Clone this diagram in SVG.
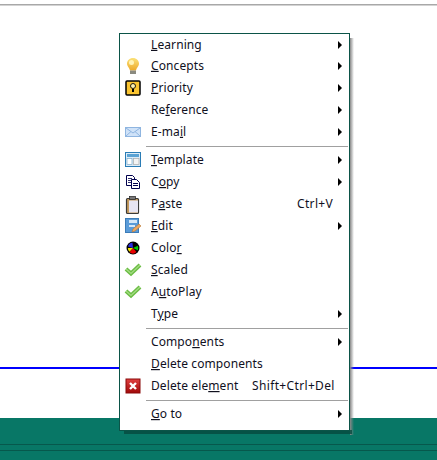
<svg xmlns="http://www.w3.org/2000/svg" width="437" height="460" viewBox="0 0 437 460">
<style>
text{font-family:"Noto Sans","Open Sans","Liberation Sans",sans-serif;font-size:12px;fill:#10101e;letter-spacing:.1px}
.k{letter-spacing:.35px}
.u{text-decoration:underline}
.sep{stroke:#a0a0a0;stroke-width:1}
.arr{fill:#000}
.chk{fill:none;stroke:#6cbd45;stroke-width:4;stroke-linejoin:miter}
</style>
<defs>
<path id="a" class="arr" d="M338 41v8l4-4z"/>
<linearGradient id="sh" x1="0" x2="1" y1="0" y2="0"><stop offset="0" stop-color="#888"/><stop offset="1" stop-color="#888" stop-opacity="0"/></linearGradient>
<linearGradient id="red" x1="0" x2="0" y1="0" y2="1"><stop offset="0" stop-color="#e04040"/><stop offset="1" stop-color="#a00808"/></linearGradient>
<linearGradient id="bulb" x1="0" x2="0" y1="0" y2="1"><stop offset="0" stop-color="#fbe27a"/><stop offset="1" stop-color="#eda92a"/></linearGradient>
<g id="chk"><path class="chk" d="M126 269l5 4.500 9-8.500"/><path d="M126 269l5 4.500 9-8.500" fill="none" stroke="#a5dd85" stroke-width="1.200"/></g>
</defs>
<rect width="437" height="460" fill="#fff"/>
<g id="background">
<rect y="4" width="437" height="1.500" fill="#a8a8a8"/>
<rect y="367" width="437" height="2" fill="#0000ff"/>
<rect y="418" width="437" height="42" fill="#087766"/>
<rect y="444" width="437" height="1" fill="#07584c"/>
<rect y="450" width="437" height="1" fill="#07584c"/>
</g>
<g id="menu">
<rect x="350" y="38" width="4" height="397" fill="url(#sh)"/>
<rect x="124" y="430" width="228" height="4" fill="#06493f" opacity=".8"/>
<rect x="119.500" y="33.500" width="230" height="397" fill="#fff" stroke="#0b5448"/>
<line class="sep" x1="146" x2="348" y1="146.500" y2="146.500"/>
<line class="sep" x1="146" x2="348" y1="328.500" y2="328.500"/>
<line class="sep" x1="146" x2="348" y1="400.500" y2="400.500"/>
</g>
<g id="item-learning"><text x="151" y="48.800"><tspan class="u">L</tspan>earning</text><use href="#a"/></g>
<g id="item-concepts">
<path d="M133 58c-3.500 0-6 2.500-6 5.500 0 2.500 2 3.500 3 7h6c1-3.500 3-4.500 3-7 0-3-2.500-5.500-6-5.500z" fill="url(#bulb)"/>
<circle cx="131.500" cy="62.500" r="2.500" fill="#fff4b8"/>
<rect x="130" y="70.500" width="6" height="3.500" fill="#8a8a80"/>
<text x="151" y="69.800"><tspan class="u">C</tspan>oncepts</text><use href="#a" y="21"/></g>
<g id="item-priority">
<rect x="126" y="81" width="14" height="14" rx="1" fill="#fbc531" stroke="#000" stroke-width="1.500"/>
<circle cx="133" cy="86" r="2.500" fill="#fff3b0" stroke="#000" stroke-width=".9"/>
<rect x="132" y="89" width="2" height="3" fill="#000"/>
<text x="151" y="91.800"><tspan class="u">P</tspan>riority</text><use href="#a" y="43"/></g>
<g id="item-reference"><text x="151" y="113.800">Re<tspan class="u">f</tspan>erence</text><use href="#a" y="65"/></g>
<g id="item-email">
<rect x="125.500" y="127.500" width="15" height="9" fill="#cfe2f8" stroke="#8fb5e0"/>
<path d="M126 128l7 5 7-5M126 136l5-4.500M140 136l-5-4.500" fill="none" stroke="#8fb5e0"/>
<text x="151" y="135.800">E-ma<tspan class="u">i</tspan>l</text><use href="#a" y="87"/></g>
<g id="item-template">
<rect x="125.500" y="152.500" width="15" height="14" fill="#dcecf8" stroke="#2a7cb5"/>
<rect x="127" y="154" width="12" height="3" fill="#5ba3d4"/>
<rect x="127" y="158.500" width="5" height="6" fill="#fff" stroke="#7aa8c8" stroke-width=".7"/>
<rect x="133.500" y="158.500" width="5.500" height="6" fill="#f3f3f3" stroke="#aaa" stroke-width=".7"/>
<text x="151" y="164"><tspan class="u">T</tspan>emplate</text><use href="#a" y="115"/></g>
<g id="item-copy">
<path d="M126.500 175.500h6l2 2v8h-8z" fill="#fff" stroke="#00004d"/>
<path d="M128 178.500h4M128 180.500h3M128 182.500h3" stroke="#00004d" stroke-width=".8"/>
<path d="M131.500 179.500h5l3 3v6h-8z" fill="#fff" stroke="#00004d"/>
<path d="M133 183.500h5M133 185.500h5" stroke="#00004d"/>
<text x="151" y="186">C<tspan class="u">o</tspan>py</text><use href="#a" y="137"/></g>
<g id="item-paste">
<rect x="126.500" y="198.500" width="12" height="15" rx="1" fill="#c49a5c" stroke="#3a3a3a" stroke-width="1.200"/>
<rect x="129" y="200.500" width="9" height="12" fill="#e6e4f2"/>
<rect x="129.500" y="196.500" width="6" height="3" fill="#777" stroke="#222" stroke-width=".7"/>
<text x="151" y="208">P<tspan class="u">a</tspan>ste</text>
<text class="k" x="297" y="208">Ctrl+V</text></g>
<g id="item-edit">
<rect x="125.500" y="218.500" width="13" height="14" fill="#5a9bd8" stroke="#3c7cb8"/>
<rect x="129" y="220" width="8" height="3" fill="#d7e8f8"/>
<rect x="129" y="225" width="6" height="2" fill="#d7e8f8"/>
<path d="M132 232l1-3 6-5 2 2-6 5z" fill="#f0a860" stroke="#b87838" stroke-width=".6"/>
<text x="151" y="230"><tspan class="u">E</tspan>dit</text><use href="#a" y="181"/></g>
<g id="item-color">
<circle cx="133" cy="248" r="6.500" fill="#000"/>
<path d="M133 248l-.5-5.200a5.200 5.200 0 0 0-4.500 3.700z" fill="#2a2ae0"/>
<path d="M133 248l4.800-2.200a5.200 5.200 0 0 1 0 4.400z" fill="#00c800"/>
<path d="M133 248l3.500 4a5.200 5.200 0 0 1-7 .2z" fill="#e80000"/>
<path d="M133 248l-3.500 3.700a5.200 5.200 0 0 1-1.700-3.700z" fill="#f4e400"/>
<text x="151" y="252">Colo<tspan class="u">r</tspan></text></g>
<g id="item-scaled"><use href="#chk"/><text x="151" y="274"><tspan class="u">S</tspan>caled</text></g>
<g id="item-autoplay"><use href="#chk" y="22"/><text x="151" y="296">A<tspan class="u">u</tspan>toPlay</text></g>
<g id="item-type"><text x="151" y="318">T<tspan class="u">y</tspan>pe</text><use href="#a" y="269"/></g>
<g id="item-components"><text x="151" y="346">Compo<tspan class="u">n</tspan>ents</text><use href="#a" y="297"/></g>
<g id="item-delete-components"><text x="151" y="368"><tspan class="u">D</tspan>elete components</text></g>
<g id="item-delete-element">
<rect x="126" y="379" width="14" height="14" fill="url(#red)" stroke="#8a0a0a"/>
<path d="M130 383l6 6M136 383l-6 6" stroke="#fff" stroke-width="2.400"/>
<text x="151" y="390">Delete ele<tspan class="u">m</tspan>ent</text>
<text class="k" x="252" y="390">Shift+Ctrl+Del</text></g>
<g id="item-goto"><text x="151" y="418"><tspan class="u">G</tspan>o to</text><use href="#a" y="369"/></g>
</svg>
